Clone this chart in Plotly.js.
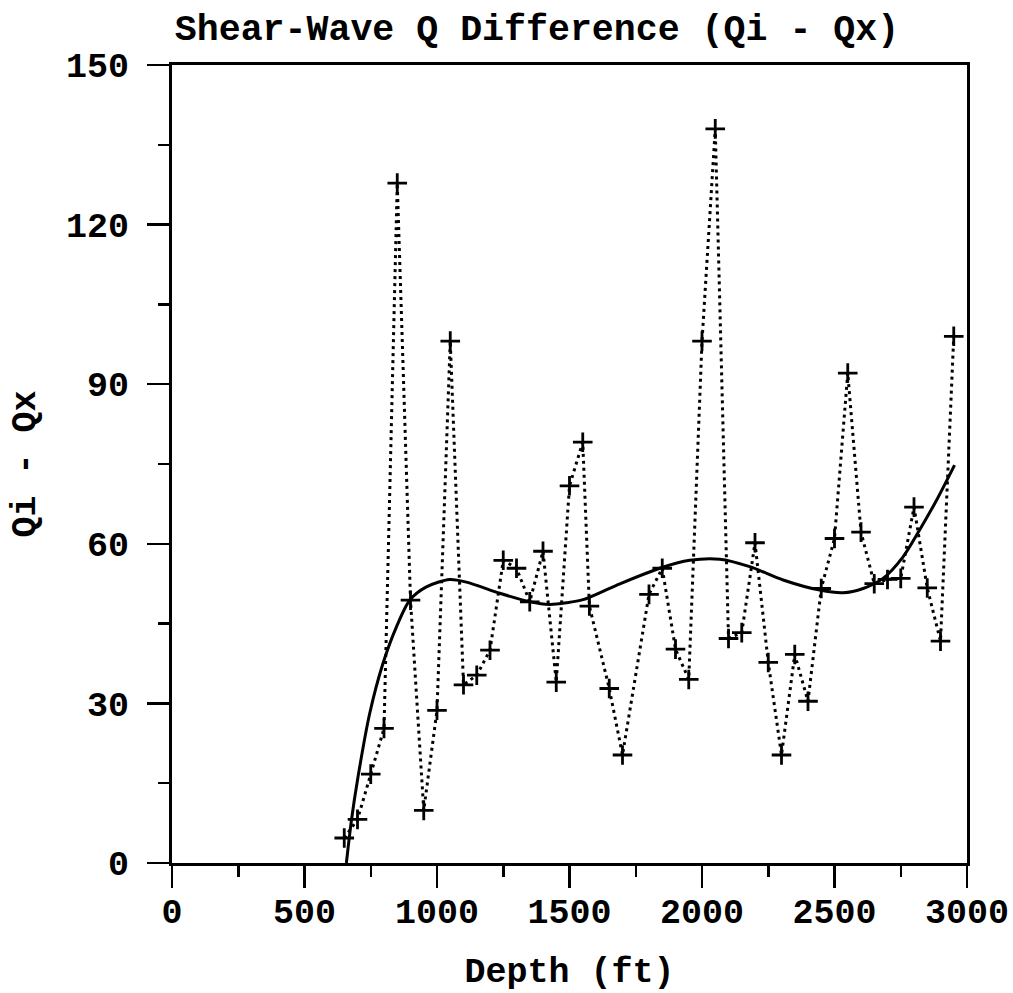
<!DOCTYPE html>
<html>
<head>
<meta charset="utf-8">
<script src="https://cdn.plot.ly/plotly-3.0.1.min.js"></script>
<style>html,body{margin:0;padding:0;background:#fff;}#chart{width:1013px;height:993px;}</style>
</head>
<body>
<div id="chart"></div>
<script>
// Measured points (depth in ft, Qi - Qx)
const depth = [650,700,750,800,850,900,950,1000,1050,1100,1150,1200,1250,1300,1350,1400,1450,1500,1550,1575,1650,1700,1800,1850,1900,1950,2000,2050,2100,2150,2200,2250,2300,2350,2400,2450,2500,2550,2600,2650,2700,2750,2800,2850,2900,2950];
const qdiff = [4.7,8.2,16.7,25.3,127.8,49.4,9.9,28.7,98.1,33.5,35.3,40,56.9,55.4,49.1,58.6,34,70.9,79.1,48.3,32.8,20.3,50.5,55.4,40.2,34.5,98.1,138,42.2,43.3,60.2,37.7,20.3,39.2,30.4,51.6,61,92.1,62.2,52.5,53.3,53.5,66.9,51.7,41.7,99];

// Smooth fitted curve
const fitDepth = [658,677,702,746,796,847,897,960,1048,1111,1237,1350,1425,1488,1551,1677,1840,1954,2067,2180,2306,2444,2532,2608,2683,2758,2821,2885,2953];
const fitQ = [0,8,16.2,28.1,37.5,44.4,49.4,51.9,53.3,52.8,50.7,49.1,48.6,48.9,49.5,52.2,55.4,56.9,57.1,55.7,53.2,51.3,50.8,51.6,53.5,57.5,62.6,68.2,74.8];

const xTickVals = [0,500,1000,1500,2000,2500,3000];
const yTickVals = [0,30,60,90,120,150];

const FONT = '"Liberation Mono", "Courier New", monospace';

const traces = [
  {
    x: depth, y: qdiff, type: 'scatter', mode: 'lines+markers',
    line: {color: '#000', width: 3, dash: '3px,4px'},
    marker: {symbol: 'cross-thin', size: 14, line: {color: '#000', width: 2.8}, color: '#000'},
    hoverinfo: 'x+y'
  },
  {
    x: fitDepth, y: fitQ, type: 'scatter', mode: 'lines',
    line: {color: '#000', width: 3, shape: 'spline', smoothing: 0.8},
    hoverinfo: 'skip'
  }
];

const layout = {
  width: 1013, height: 993,
  paper_bgcolor: '#fff', plot_bgcolor: '#fff',
  showlegend: false,
  margin: {l: 172, r: 46, t: 65, b: 130},
  font: {family: FONT, color: '#000', size: 34, weight: 'bold'},
  title: {
    text: 'Shear-Wave Q Difference (Qi - Qx)',
    font: {family: FONT, size: 36.6, color: '#000', weight: 'bold'},
    x: 537/1013, xref: 'container', xanchor: 'center',
    y: 1 - 27/993, yref: 'container', yanchor: 'middle'
  },
  xaxis: {
    range: [0, 3000], tickvals: xTickVals, ticktext: xTickVals.map(String),
    ticks: 'outside', ticklen: 22, tickwidth: 2.5, tickcolor: '#000',
    minor: {dtick: 250, ticks: 'outside', ticklen: 11, tickwidth: 2.5, tickcolor: '#000'},
    showline: true, linecolor: '#000', linewidth: 3, mirror: true,
    showgrid: false, zeroline: false,
    tickfont: {family: FONT, size: 35, color: '#000', weight: 'bold'},
    ticklabelstandoff: -7,
    title: {text: 'Depth (ft)', font: {family: FONT, size: 35, color: '#000', weight: 'bold'}, standoff: 34}
  },
  yaxis: {
    range: [0, 150], tickvals: yTickVals, ticktext: yTickVals.map(String),
    ticks: 'outside', ticklen: 22, tickwidth: 2.5, tickcolor: '#000',
    minor: {dtick: 15, ticks: 'outside', ticklen: 11, tickwidth: 2.5, tickcolor: '#000'},
    showline: true, linecolor: '#000', linewidth: 3, mirror: true,
    showgrid: false, zeroline: false,
    tickfont: {family: FONT, size: 35, color: '#000', weight: 'bold'},
    ticklabelstandoff: 11,
    title: {text: 'Qi - Qx', font: {family: FONT, size: 35, color: '#000', weight: 'bold'}, standoff: 20}
  }
};

Plotly.newPlot('chart', traces, layout, {displayModeBar: false, staticPlot: true});
</script>
</body>
</html>
